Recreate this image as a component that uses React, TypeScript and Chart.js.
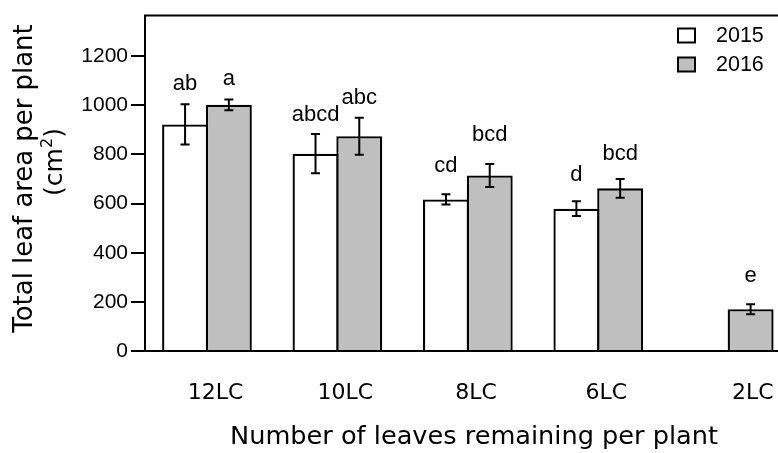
import React, { useEffect, useRef } from "react";
import { Chart, registerables } from "chart.js";

Chart.register(...registerables);

// ---- data ----
const categories = ["12LC", "10LC", "8LC", "6LC", "2LC"];
const seriesNames = ["2015", "2016"];
const values2015: (number | null)[] = [922, 803, 617, 579, null];
const values2016: (number | null)[] = [1002, 874, 714, 662, 170];
const errors2015: (number | null)[] = [82, 80, 21, 30, null];
const errors2016: (number | null)[] = [22, 75, 47, 38, 20];
const letters2015 = ["ab", "abcd", "cd", "d", ""];
const letters2016 = ["a", "abc", "bcd", "bcd", "e"];
const yTicks = [0, 200, 400, 600, 800, 1000, 1200];
const xTitle = "Number of leaves remaining per plant";
const yTitle = "Total leaf area per plant";

// ---- styles / layout ----
const Y_MAX = 1365;
const X_MIN = -0.475;
const X_MAX = 4.6;
const GREY = "#bfbfbf";
const letterGaps2015 = [14, 13, 22, 20, 0];
const letterGaps2016 = [14, 14, 23, 19, 22];
const xLabelOffsets = [8.5, 8, 8.3, 8, 24];
const SANS = '"Liberation Sans", Arial, sans-serif';
const VERDANA = '"DejaVu Sans", Verdana, sans-serif';

const allValues = [values2015, values2016];
const allErrors = [errors2015, errors2016];
const allLetters = [letters2015, letters2016];
const allGaps = [letterGaps2015, letterGaps2016];

const decorPlugin = {
  id: "decor",
  afterDatasetsDraw(chart: any) {
    const ctx = chart.ctx as CanvasRenderingContext2D;
    const yScale = chart.scales.y;
    ctx.save();
    ctx.strokeStyle = "#000";
    ctx.fillStyle = "#000";
    ctx.lineWidth = 2;
    for (let d = 0; d < 2; d++) {
      const meta = chart.getDatasetMeta(d);
      meta.data.forEach((bar: any, i: number) => {
        const v = allValues[d][i];
        const e = allErrors[d][i];
        if (v == null || e == null) return;
        const x = bar.x;
        const yTop = yScale.getPixelForValue(v + e);
        const yBot = yScale.getPixelForValue(v - e);
        ctx.beginPath();
        ctx.moveTo(x, yTop);
        ctx.lineTo(x, yBot);
        ctx.moveTo(x - 4.5, yTop);
        ctx.lineTo(x + 4.5, yTop);
        ctx.moveTo(x - 4.5, yBot);
        ctx.lineTo(x + 4.5, yBot);
        ctx.stroke();
        const letter = allLetters[d][i];
        if (letter) {
          ctx.font = `22px ${SANS}`;
          ctx.textAlign = "center";
          ctx.textBaseline = "alphabetic";
          ctx.fillText(letter, x, yTop - allGaps[d][i]);
        }
      });
    }
    ctx.restore();
  },
  afterDraw(chart: any) {
    const ctx = chart.ctx as CanvasRenderingContext2D;
    const area = chart.chartArea;
    const xScale = chart.scales.x;
    ctx.save();
    ctx.strokeStyle = "#000";
    ctx.fillStyle = "#000";
    ctx.lineWidth = 2;
    ctx.beginPath();
    ctx.moveTo(area.left - 1, area.top);
    ctx.lineTo(area.right, area.top);
    ctx.stroke();
    // x category labels
    ctx.font = `22px ${VERDANA}`;
    ctx.textAlign = "center";
    ctx.textBaseline = "middle";
    categories.forEach((c, i) => {
      ctx.fillText(c, xScale.getPixelForValue(i) + xLabelOffsets[i], 393);
    });
    // x title
    ctx.font = `25.6px ${VERDANA}`;
    ctx.fillText(xTitle, 474, 437);
    // y title line 1
    ctx.save();
    ctx.translate(31.5, 178.5);
    ctx.rotate(-Math.PI / 2);
    ctx.textAlign = "center";
    ctx.textBaseline = "alphabetic";
    ctx.font = `25.9px ${VERDANA}`;
    ctx.fillText(yTitle, 0, 0);
    ctx.restore();
    // y title line 2: (cm²)
    ctx.save();
    ctx.translate(62, 162);
    ctx.rotate(-Math.PI / 2);
    ctx.textBaseline = "alphabetic";
    ctx.textAlign = "left";
    const big = `25px ${VERDANA}`;
    const small = `16px ${VERDANA}`;
    ctx.font = big;
    const w1 = ctx.measureText("(cm").width;
    const w3 = ctx.measureText(")").width;
    ctx.font = small;
    const w2 = ctx.measureText("2").width;
    let sx = -(w1 + w2 + w3) / 2;
    ctx.font = big;
    ctx.fillText("(cm", sx, 0);
    sx += w1;
    ctx.font = small;
    ctx.fillText("2", sx, -10);
    sx += w2;
    ctx.font = big;
    ctx.fillText(")", sx, 0);
    ctx.restore();
    // legend
    const fills = ["#ffffff", GREY];
    const boxYs = [28.5, 57.5];
    const textYs = [36, 65];
    ctx.lineWidth = 2;
    ctx.font = `21.5px ${SANS}`;
    ctx.textAlign = "left";
    ctx.textBaseline = "middle";
    seriesNames.forEach((name, i) => {
      ctx.fillStyle = fills[i];
      ctx.fillRect(678, boxYs[i], 17, 14);
      ctx.strokeRect(678, boxYs[i], 17, 14);
      ctx.fillStyle = "#000";
      ctx.fillText(name, 716, textYs[i]);
    });
    ctx.restore();
  },
};

export default function App() {
  const ref = useRef<HTMLCanvasElement>(null);
  useEffect(() => {
    const chart = new Chart(ref.current!, {
      type: "bar",
      data: {
        datasets: [
          {
            label: seriesNames[0],
            data: categories.map((_, i) => ({ x: i, y: values2015[i] })) as any,
            backgroundColor: "#ffffff",
            borderColor: "#000",
            borderWidth: 2.3,
            categoryPercentage: 0.671,
            barPercentage: 1.05,
          },
          {
            label: seriesNames[1],
            data: categories.map((_, i) => ({ x: i, y: values2016[i] })) as any,
            backgroundColor: GREY,
            borderColor: "#000",
            borderWidth: 2.3,
            categoryPercentage: 0.671,
            barPercentage: 1.05,
          },
        ],
      },
      options: {
        animation: false,
        responsive: false,
        layout: { padding: { top: 13, right: 23, left: 0, bottom: 0 } },
        plugins: { legend: { display: false }, tooltip: { enabled: false } },
        scales: {
          x: {
            type: "linear",
            min: X_MIN,
            max: X_MAX,
            offset: false,
            afterBuildTicks: (s: any) => {
              s.ticks = categories.map((_, i) => ({ value: i }));
            },
            afterFit: (s: any) => {
              s.height = 102;
            },
            ticks: { display: false },
            grid: { display: true, drawOnChartArea: false, drawTicks: false },
            border: { display: true, color: "#000", width: 2 },
          },
          y: {
            min: 0,
            max: Y_MAX,
            afterBuildTicks: (s: any) => {
              s.ticks = yTicks.map((v) => ({ value: v }));
            },
            afterFit: (s: any) => {
              s.width = 145;
            },
            ticks: {
              color: "#000",
              font: { family: SANS, size: 21 },
              padding: 3,
              callback: (v: any) => String(v),
            },
            grid: {
              drawOnChartArea: false,
              drawTicks: true,
              tickLength: 14,
              color: "#000",
              lineWidth: 2,
            },
            border: { display: true, color: "#000", width: 2 },
          },
        },
      } as any,
      plugins: [decorPlugin],
    });
    return () => chart.destroy();
  }, []);
  return (
    <div
      style={{
        position: "fixed",
        left: 0,
        top: 0,
        width: 778,
        height: 453,
        overflow: "hidden",
        background: "#fff",
      }}
    >
      <canvas ref={ref} width={830} height={453} style={{ display: "block" }} />
    </div>
  );
}
